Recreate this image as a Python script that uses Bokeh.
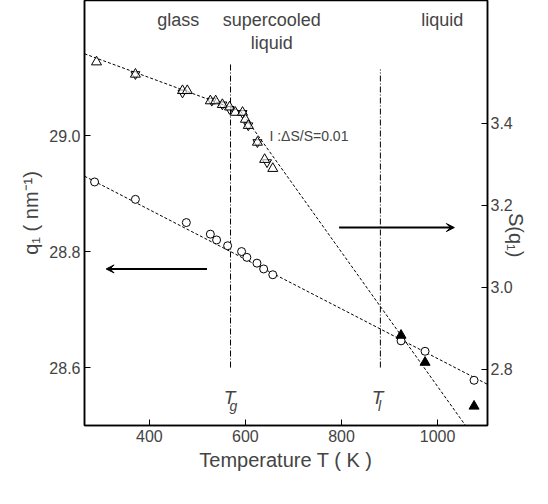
import math
from bokeh.plotting import figure
from bokeh.models import Range1d, LinearAxis, Arrow, VeeHead, Label, NumeralTickFormatter
from bokeh.embed import file_html
from bokeh.resources import INLINE

# q1 (left axis), open circles
t_q = [286, 371, 477, 527, 540, 563, 592, 603, 624, 638, 657, 924, 974, 1076]
q1 = [28.92, 28.89, 28.85, 28.83, 28.82, 28.81, 28.80, 28.79, 28.78, 28.77, 28.76, 28.646, 28.628, 28.578]
# S(q1) (right axis), open triangles
t_s = [290, 371, 469, 479, 527, 538, 552, 567, 579, 594, 600, 606, 625, 640, 657]
s_q = [3.55, 3.52, 3.48, 3.48, 3.455, 3.455, 3.446, 3.44, 3.427, 3.427, 3.41, 3.395, 3.354, 3.312, 3.29]
# inverted triangles overlapping in glass region
t_s2 = [371, 469, 530, 552, 567, 594, 606, 625, 645]
s_q2 = [3.52, 3.475, 3.455, 3.446, 3.435, 3.425, 3.395, 3.354, 3.305]
# liquid, filled triangles
t_l = [924, 974, 1076]
s_l = [2.883, 2.817, 2.71]
# fit lines
fit_q_t, fit_q = [265, 1104], [28.93, 28.571]
fit_a_t, fit_a = [265, 590], [3.57, 3.43]
fit_b_t, fit_b = [590, 1060], [3.43, 2.66]
t_g, t_liq = 569, 881

FONT = "Liberation Sans"
p = figure(width=540, height=488, output_backend="svg", toolbar_location=None,
           x_range=Range1d(265, 1104), y_range=Range1d(28.5, 29.233),
           min_border_left=84, min_border_right=45, min_border_top=0, min_border_bottom=63)
p.extra_y_ranges = {"s": Range1d(2.663, 3.70)}
p.grid.visible = False
p.outline_line_color = "black"
p.outline_line_width = 1.5

p.xaxis.axis_label = "Temperature T ( K )"
p.yaxis.axis_label = "q₁ ( nm⁻¹)"
p.xaxis.ticker = [400, 600, 800, 1000]
p.yaxis.ticker = [28.6, 28.8, 29.0]
p.yaxis.formatter = NumeralTickFormatter(format="0.0")
ax2 = LinearAxis(y_range_name="s", ticker=[2.6, 2.8, 3.0, 3.2, 3.4], axis_label="S(q₁)",
                 formatter=NumeralTickFormatter(format="0.0"))
p.add_layout(ax2, "right")
for ax in [p.xaxis[0], p.yaxis[0], ax2]:
    ax.axis_label_text_font = FONT
    ax.axis_label_text_font_style = "normal"
    ax.axis_label_text_font_size = "20px"
    ax.axis_label_standoff = 4
    ax.major_label_text_font = FONT
    ax.major_label_text_font_size = "16px"
    ax.major_label_standoff = 4
    ax.major_tick_in = 6
    ax.major_tick_out = 0
    ax.minor_tick_in = 3
    ax.minor_tick_out = 0
    ax.axis_line_width = 1.5
ax2.axis_label_orientation = -math.pi / 2
ax2.axis_label_standoff = 0
ax2.major_label_standoff = 3

p.line(fit_q_t, fit_q, color="black", line_dash="3 2", line_width=1)
p.line(fit_a_t, fit_a, color="black", line_dash="3 2", line_width=1, y_range_name="s")
p.line(fit_b_t, fit_b, color="black", line_dash="3 2", line_width=1, y_range_name="s")
p.line([t_g, t_g], [28.6, 29.126], color="black", line_dash="6 2 1 2", line_width=1)
p.line([t_liq, t_liq], [28.6, 29.114], color="black", line_dash="6 2 1 2", line_width=1)

p.scatter(t_q, q1, marker="circle", size=8, fill_color="white", line_color="black")
p.scatter(t_s2, s_q2, marker="inverted_triangle", size=9, fill_color=None, line_color="black", y_range_name="s")
p.scatter(t_s, s_q, marker="triangle", size=10, fill_color="white", fill_alpha=0.6, line_color="black", y_range_name="s")
p.scatter(t_l, s_l, marker="triangle", size=10, fill_color="black", line_color="black", y_range_name="s")

p.add_layout(Arrow(end=VeeHead(size=8, fill_color="black"), x_start=520, y_start=28.77, x_end=310, y_end=28.77, line_width=2))
p.add_layout(Arrow(end=VeeHead(size=8, fill_color="black"), x_start=795, y_start=3.146, x_end=1035, y_end=3.146, line_width=2, y_range_name="s"))

for txt, x, y in [("glass", 460, 29.2), ("supercooled", 655, 29.2),
                  ("liquid", 655, 29.16), ("liquid", 1010, 29.2)]:
    p.add_layout(Label(x=x, y=y, text=txt, text_font=FONT, text_font_size="18px", text_align="center", text_baseline="middle"))
p.add_layout(Label(x=650, y=29.0, text="I :ΔS/S=0.01", text_font=FONT, text_font_size="14px", text_baseline="middle"))
p.add_layout(Label(x=t_g - 14, y=28.53, text="T", text_font=FONT, text_font_size="19px", text_font_style="italic"))
p.add_layout(Label(x=t_g - 2, y=28.52, text="g", text_font=FONT, text_font_size="14px", text_font_style="italic"))
p.add_layout(Label(x=t_liq - 18, y=28.53, text="T", text_font=FONT, text_font_size="19px", text_font_style="italic"))
p.add_layout(Label(x=t_liq - 5, y=28.52, text="l", text_font=FONT, text_font_size="14px", text_font_style="italic"))

open("out.html", "w").write(file_html(p, INLINE))
